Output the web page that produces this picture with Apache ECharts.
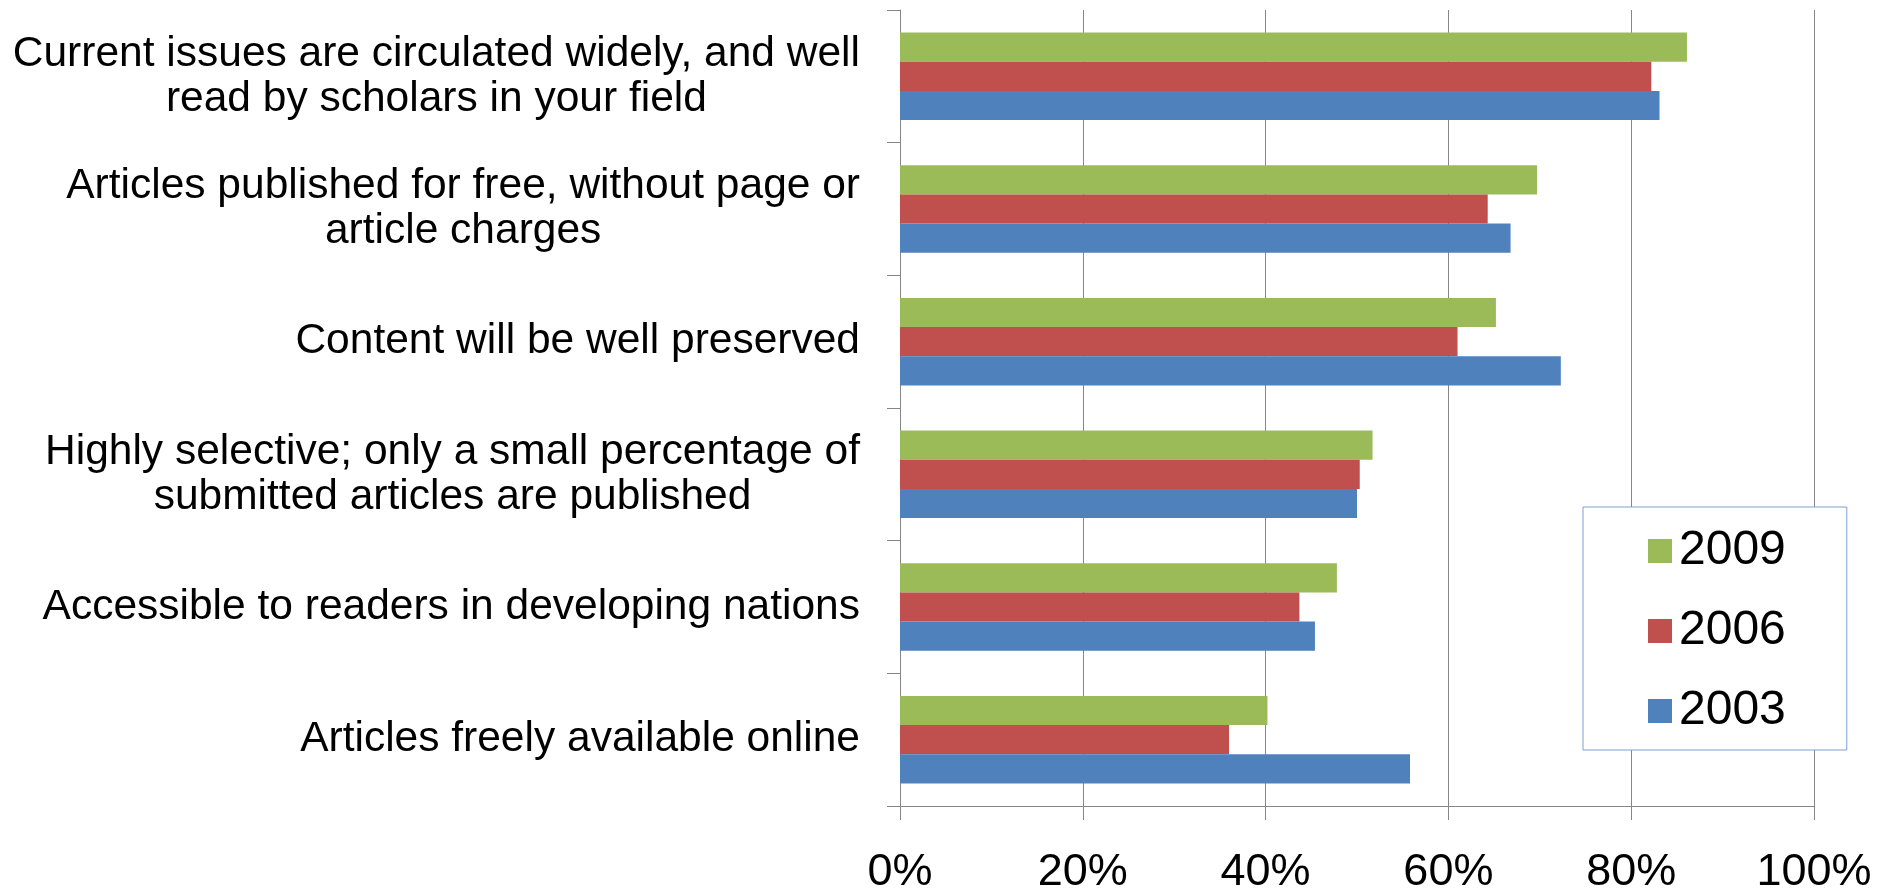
<!DOCTYPE html>
<html>
<head>
<meta charset="utf-8">
<script src="https://cdn.jsdelivr.net/npm/echarts@6/dist/echarts.min.js"></script>
<style>
html,body{margin:0;padding:0;background:#fff;}
#chart{width:1894px;height:896px;}
</style>
</head>
<body>
<div id="chart"></div>
<script>
var categories = [
  "Current issues are circulated widely, and well\nread by scholars in your field",
  "Articles published for free, without page or\narticle charges",
  "Content will be well preserved",
  "Highly selective; only a small percentage of\nsubmitted articles are published",
  "Accessible to readers in developing nations",
  "Articles freely available online"
];
var seriesNames = ["2009", "2006", "2003"];
var values2009 = [86.1, 69.7, 65.2, 51.7, 47.8, 40.2];
var values2006 = [82.2, 64.3, 61.0, 50.3, 43.7, 36.0];
var values2003 = [83.1, 66.8, 72.3, 50.0, 45.4, 55.8];
var tickValues = [0, 20, 40, 60, 80, 100];
var colors = ["#9BBB59", "#C0504D", "#4F81BD"];

var font = "'Liberation Sans', Arial, sans-serif";
var chart = echarts.init(document.getElementById('chart'));
var dataSets = [values2009, values2006, values2003];

chart.setOption({
  animation: false,
  backgroundColor: '#ffffff',
  grid: { left: 900, right: 80, top: 10, bottom: 90, containLabel: false },
  legend: {
    data: seriesNames,
    orient: 'vertical',
    left: 1583,
    top: 507,
    padding: [20, 61, 15, 65],
    itemWidth: 24,
    itemHeight: 24,
    itemGap: 32,
    icon: 'rect',
    borderColor: '#7f9fd0',
    borderWidth: 1,
    backgroundColor: '#ffffff',
    textStyle: { fontFamily: font, fontSize: 48, lineHeight: 48, color: '#000', padding: [0, 0, 0, 2] }
  },
  xAxis: {
    type: 'value',
    min: tickValues[0],
    max: tickValues[tickValues.length - 1],
    interval: 20,
    axisLine: { show: true, lineStyle: { color: '#868686', width: 1 } },
    axisTick: { show: true, length: 14, lineStyle: { color: '#868686' } },
    splitLine: { show: true, lineStyle: { color: '#868686', width: 1 } },
    axisLabel: {
      formatter: '{value}%',
      fontFamily: font,
      fontSize: 45,
      color: '#000',
      margin: 44
    }
  },
  yAxis: {
    type: 'category',
    inverse: true,
    data: categories,
    axisLine: { show: true, lineStyle: { color: '#868686', width: 1 } },
    axisTick: { show: true, length: 13, lineStyle: { color: '#868686' } },
    splitLine: { show: false },
    axisLabel: {
      margin: 40,
      align: 'right',
      formatter: function (v) {
        return v.split('\n').map(function (l) { return '{c|' + l + '}'; }).join('\n');
      },
      rich: {
        c: { align: 'center', fontFamily: font, fontSize: 42.5, lineHeight: 45, color: '#000' }
      }
    }
  },
  series: seriesNames.map(function (name, i) {
    return {
      name: name,
      type: 'bar',
      data: dataSets[i],
      barGap: '0%',
      barCategoryGap: '34%',
      itemStyle: { color: colors[i] }
    };
  })
});
</script>
</body>
</html>
